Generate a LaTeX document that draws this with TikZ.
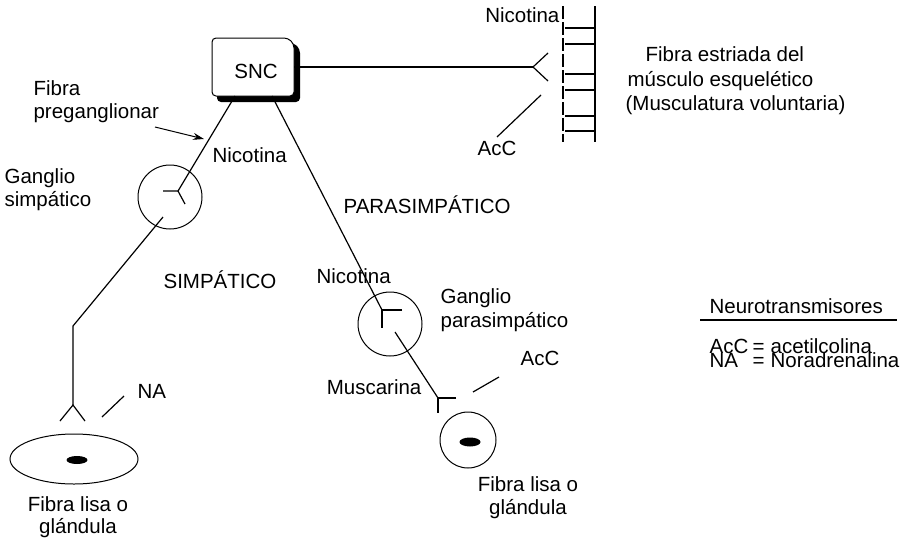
\documentclass[tikz,border=0pt]{standalone}
\usepackage{fontspec}
\setmainfont{Liberation Sans}
\usetikzlibrary{arrows.meta,shapes.geometric}
\begin{document}
\begin{tikzpicture}[x=1pt,y=-1pt, line width=1.2pt,
  font=\fontsize{20.5}{24}\selectfont,
  lbl/.style={inner sep=0pt, anchor=base west},
  lblc/.style={inner sep=0pt, anchor=base},
  lble/.style={inner sep=0pt, anchor=base east},
  gang/.style={draw, circle, inner sep=0pt, minimum size=64pt, line width=1pt},
  nucleus/.style={fill=black, ellipse, inner sep=0pt}]
\useasboundingbox (0,0) rectangle (907,541);

% SNC box with shadow
\fill[rounded corners=4pt] (217,43) -- (294,43) -- (300,49) -- (300,102) -- (217,102) -- cycle;
\draw[fill=white, line width=1pt, rounded corners=4pt] (212,38) -- (288,38) -- (294,44) -- (294,96) -- (212,96) -- cycle;
\node[lblc] (snc) at (256,78) {SNC};

% coordinates
\coordinate (sncR) at (294,67);
\coordinate (sncBL) at (235,96);
\coordinate (sncBR) at (272,96);
\coordinate (mjunc) at (533,67);

% somatic
\draw (sncR) -- (mjunc);
\draw (548,53) -- (mjunc) -- (548,81);
\coordinate (acA) at (541,95);
\coordinate (acB) at (497,137);
\draw (acA) -- (acB);
\node[lble] (nicTop) at (560,22) {Nicotina};
\node[lbl] (acTop) at (477,155) {AcC};

% muscle fibre
\draw[dash pattern=on 13pt off 3pt] (563,6) -- (563,142);
\draw (595,6) -- (595,142);
\foreach \yy in {28,44,74,90,116,131} \draw (565,\yy) -- (595,\yy);
\node[lbl] (mus1) at (645,61) {Fibra estriada del};
\node[lbl] (mus2) at (627,86) {músculo esquelético};
\node[lbl] (mus3) at (625,110) {(Musculatura voluntaria)};

% sympathetic
\node[gang] (gs) at (170,197) {};
\coordinate (gsJ) at (178,191);
\draw (sncBL) -- (gsJ);
\draw (163,191) -- (gsJ) -- (185,204);
\coordinate (gsOut) at (163,217);
\coordinate (bend) at (73,326);
\coordinate (sJ) at (73,405);
\draw (gsOut) -- (bend) -- (sJ);
\draw (60,421) -- (sJ) -- (85,421);
\draw (102,417) -- (124,396);
\node[lbl] (na) at (137,398) {NA};
\node[draw, ellipse, line width=1pt, minimum width=128pt, minimum height=50pt, inner sep=0pt] (glL) at (74,459) {};
\node[nucleus, minimum width=21pt, minimum height=8pt] (nucL) at (77,460) {};
\node[lblc] (glL1) at (78,511) {Fibra lisa o};
\node[lblc] (glL2) at (78,533) {glándula};

\node[lbl] (pre1) at (33,95) {Fibra};
\node[lbl] (pre2) at (33,118) {preganglionar};
\coordinate (arS) at (155,127);
\coordinate (arE) at (204,139);
\draw[-{Stealth[length=11pt,width=7pt]}, line width=1pt] (arS) -- (arE);
\node[lbl] (nicS) at (212,162) {Nicotina};
\node[lbl] (gs1) at (4,183) {Ganglio};
\node[lbl] (gs2) at (4,206) {simpático};
\node[lbl] (simp) at (163,288) {SIMPÁTICO};

% parasympathetic
\node[gang] (gp) at (390,324) {};
\coordinate (gpJ) at (382,310);
\draw (sncBR) -- (gpJ);
\draw (402,310) -- (gpJ) -- (382,328);
\coordinate (gpOut) at (395,332);
\coordinate (pJ) at (438,398);
\draw (gpOut) -- (pJ);
\draw (456,398) -- (pJ) -- (438,413);
\draw (473,392) -- (499,377);
\node[lbl] (acR) at (520,365) {AcC};
\node[gang, minimum size=56pt] (glR) at (468,440) {};
\node[nucleus, minimum width=21pt, minimum height=9pt] (nucR) at (470,442) {};
\node[lblc] (glR1) at (528,491) {Fibra lisa o};
\node[lblc] (glR2) at (528,514) {glándula};
\node[lbl] (para) at (343,213) {PARASIMPÁTICO};
\node[lbl] (nicP) at (316,283) {Nicotina};
\node[lbl] (gp1) at (440,303) {Ganglio};
\node[lbl] (gp2) at (440,327) {parasimpático};
\node[lble] (musc) at (422,394) {Muscarina};

% legend
\node[lbl] (leg) at (709,313) {Neurotransmisores};
\coordinate (legA) at (700,320);
\coordinate (legB) at (897,320);
\draw (legA) -- (legB);
\node[lbl] (l1a) at (709,353) {AcC};
\node[lbl] (l1b) at (752,353) {=};
\node[lbl] (l1c) at (770,353) {acetilcolina};
\node[lbl] (l2a) at (709,367) {NA};
\node[lbl] (l2b) at (752,367) {=};
\node[lbl] (l2c) at (770,367) {Noradrenalina};
\end{tikzpicture}
\end{document}
